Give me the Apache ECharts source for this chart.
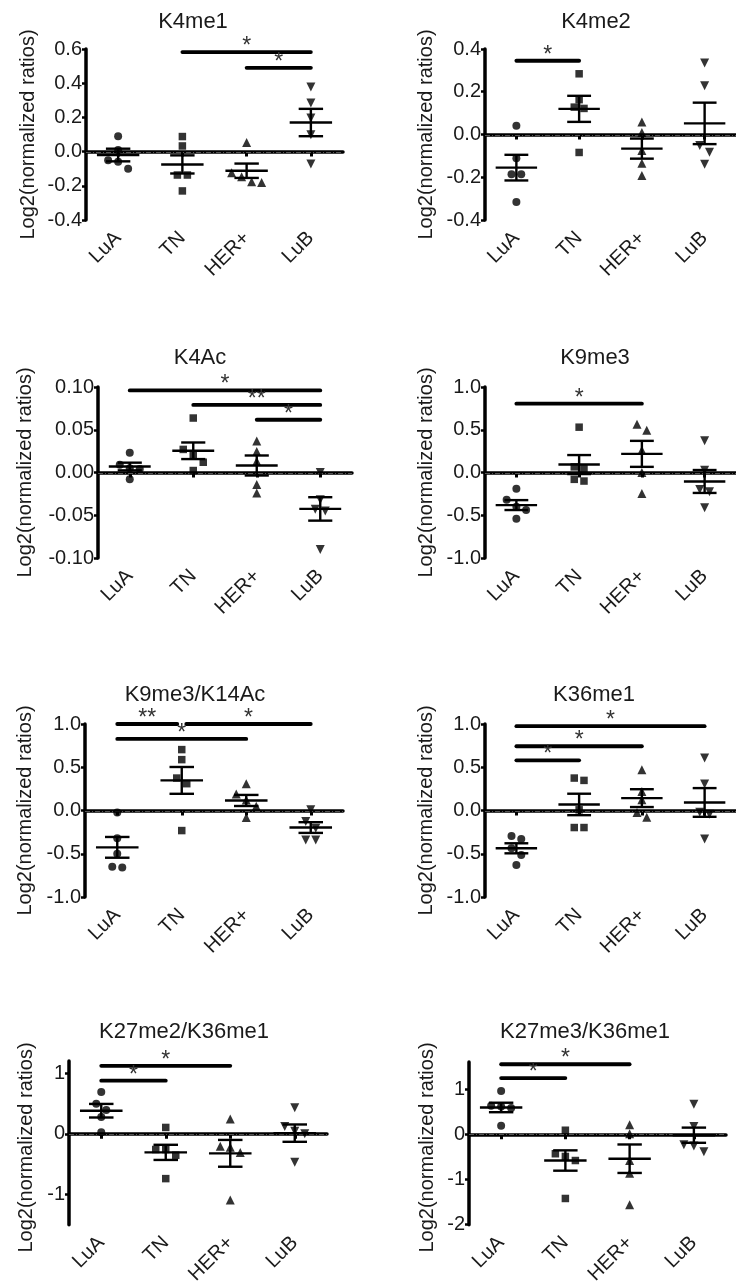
<!DOCTYPE html>
<html><head><meta charset="utf-8">
<script src="https://cdn.jsdelivr.net/npm/echarts@6/dist/echarts.min.js"></script>
<style>html,body{margin:0;padding:0;background:#fff;}#c{width:736px;height:1287px;}</style>
</head><body><div id="c"></div>
<script>
// ---------- DATA ----------
const groups = ['LuA', 'TN', 'HER+', 'LuB'];
const panelTitles = ['K4me1', 'K4me2', 'K4Ac', 'K9me3', 'K9me3/K14Ac', 'K36me1', 'K27me2/K36me1', 'K27me3/K36me1'];
const yAxisTitle = 'Log2(normalized ratios)';

const k4me1Values = [[0.09, 0.01, -0.05, -0.06, -0.10], [0.033, 0.088, -0.137, -0.137, -0.23], [0.053, -0.124, -0.147, -0.18, -0.176], [0.378, 0.284, 0.196, 0.098, -0.073]];
const k4me1Mean = [-0.02, -0.075, -0.112, 0.17];
const k4me1Sem = [0.037, 0.053, 0.042, 0.08];
const k4me1Sig = [[1, 3, 0.582, '*'], [2, 3, 0.49, '*']];

const k4me2Values = [[0.041, -0.111, -0.186, -0.186, -0.316], [0.284, 0.163, 0.128, 0.122, -0.084], [0.058, 0.009, -0.075, -0.134, -0.192], [0.334, 0.228, -0.052, -0.083, -0.139]];
const k4me2Mean = [-0.155, 0.12, -0.066, 0.052];
const k4me2Sem = [0.06, 0.061, 0.047, 0.097];
const k4me2Sig = [[0, 1, 0.345, '*']];

const k4acValues = [[0.023, 0.009, 0.005, 0.004, -0.008], [0.0637, 0.027, 0.02, 0.012, 0.0023], [0.0367, 0.0246, 0.0133, -0.014, -0.024], [0.0, -0.032, -0.043, -0.045, -0.09]];
const k4acMean = [0.007, 0.0254, 0.0082, -0.0426];
const k4acSem = [0.0045, 0.0097, 0.0117, 0.0137];
const k4acSig = [[0, 3, 0.096, '*'], [1, 3, 0.079, '**'], [2, 3, 0.0617, '*']];

const k9me3Values = [[-0.19, -0.32, -0.40, -0.44, -0.54], [0.53, 0.066, 0.047, -0.08, -0.10], [0.564, 0.494, 0.26, 0.0, -0.245], [0.37, 0.027, -0.2, -0.226, -0.412]];
const k9me3Mean = [-0.381, 0.093, 0.218, -0.105];
const k9me3Sem = [0.058, 0.111, 0.152, 0.134];
const k9me3Sig = [[0, 2, 0.805, '*']];

const k9k14Values = [[-0.023, -0.32, -0.50, -0.66, -0.65], [0.704, 0.588, 0.375, 0.31, -0.232], [0.31, 0.19, 0.12, 0.05, -0.08], [0.008, -0.128, -0.205, -0.34, -0.34]];
const k9k14Mean = [-0.426, 0.348, 0.116, -0.197];
const k9k14Sem = [0.12, 0.155, 0.064, 0.062];
const k9k14Sig = [[0, 1, 1.0, '**'], [1, 3, 1.0, '*'], [0, 2, 0.828, '*']];

const k36me1Values = [[-0.294, -0.33, -0.437, -0.515, -0.63], [0.348, 0.375, 0.008, -0.197, -0.197], [0.472, 0.22, 0.124, -0.077, -0.023], [0.607, 0.306, -0.02, -0.043, -0.33]];
const k36me1Mean = [-0.437, 0.07, 0.143, 0.093];
const k36me1Sem = [0.058, 0.124, 0.103, 0.166];
const k36me1Sig = [[0, 3, 0.975, '*'], [0, 2, 0.743, '*'], [0, 1, 0.58, '*']];

const k27me2Values = [[0.688, 0.495, 0.39, 0.276, 0.026], [0.104, -0.26, -0.26, -0.354, -0.74], [0.245, -0.224, -0.208, -0.31, -1.094], [0.427, 0.042, 0.12, 0.0, -0.47]];
const k27me2Mean = [0.38, -0.307, -0.323, 0.01];
const k27me2Sem = [0.112, 0.125, 0.221, 0.143];
const k27me2Sig = [[0, 2, 1.12, '*'], [0, 1, 0.875, '*']];

const k27me3Values = [[0.958, 0.615, 0.58, 0.63, 0.19], [0.09, -0.49, -0.43, -0.58, -1.42], [0.21, 0.014, -0.58, -0.86, -1.56], [0.665, 0.175, -0.23, -0.26, -0.385]];
const k27me3Mean = [0.594, -0.58, -0.54, -0.02];
const k27me3Sem = [0.105, 0.225, 0.315, 0.168];
const k27me3Sig = [[0, 2, 1.55, '*'], [0, 1, 1.245, '*']];

// y-axis tick settings per panel
const yTicks1 = {min: -0.4, max: 0.6, interval: 0.2, dec: 1};
const yTicks2 = {min: -0.4, max: 0.4, interval: 0.2, dec: 1};
const yTicks3 = {min: -0.1, max: 0.1, interval: 0.05, dec: 2};
const yTicks4 = {min: -1, max: 1, interval: 0.5, dec: 1};
const yTicks5 = {min: -1, max: 1, interval: 0.5, dec: 1};
const yTicks6 = {min: -1, max: 1, interval: 0.5, dec: 1};
const yTicks7 = {min: -1.5, max: 1.2, ticks: [-1, 0, 1], dec: 0};
const yTicks8 = {min: -2, max: 1.6, ticks: [-2, -1, 0, 1], dec: 0};

// ---------- LAYOUT ----------
const layout = [
  {left: 86, top: 49, width: 257, height: 171, tx: 193, ty: 22, nx: 28},
  {left: 485, top: 49, width: 258, height: 171, tx: 596, ty: 22, nx: 426},
  {left: 98, top: 387, width: 254, height: 171, tx: 200, ty: 358, nx: 25},
  {left: 485, top: 387, width: 258, height: 171, tx: 595, ty: 358, nx: 426},
  {left: 85, top: 724, width: 258, height: 173, tx: 195, ty: 695, nx: 25},
  {left: 485, top: 724, width: 258, height: 173, tx: 594, ty: 695, nx: 426},
  {left: 69, top: 1061, width: 258, height: 173, tx: 184, ty: 1032, nx: 26},
  {left: 469, top: 1062, width: 257, height: 171, tx: 585, ty: 1032, nx: 427}
];

const panels = [
  {values: k4me1Values, mean: k4me1Mean, sem: k4me1Sem, sig: k4me1Sig, y: yTicks1},
  {values: k4me2Values, mean: k4me2Mean, sem: k4me2Sem, sig: k4me2Sig, y: yTicks2},
  {values: k4acValues, mean: k4acMean, sem: k4acSem, sig: k4acSig, y: yTicks3},
  {values: k9me3Values, mean: k9me3Mean, sem: k9me3Sem, sig: k9me3Sig, y: yTicks4},
  {values: k9k14Values, mean: k9k14Mean, sem: k9k14Sem, sig: k9k14Sig, y: yTicks5},
  {values: k36me1Values, mean: k36me1Mean, sem: k36me1Sem, sig: k36me1Sig, y: yTicks6},
  {values: k27me2Values, mean: k27me2Mean, sem: k27me2Sem, sig: k27me2Sig, y: yTicks7},
  {values: k27me3Values, mean: k27me3Mean, sem: k27me3Sem, sig: k27me3Sig, y: yTicks8}
];

const FONT = '"Liberation Sans", Arial, Helvetica, sans-serif';
const TXT = '#1a1a1a';
const symbols = ['circle', 'rect', 'triangle', 'triangle'];
const symbolRot = [0, 0, 0, 180];
const symbolSizes = [8, 7.5, 9, 9];

// beeswarm-like spreading of points that would overlap vertically
function swarm(vals, gi, L, Y) {
  const ppu = L.height / (Y.max - Y.min);
  const band = L.width / 4;
  const idx = vals.map((v, i) => i).sort((a, b) => vals[b] - vals[a]);
  const clusters = []; let cur = [];
  idx.forEach(i => {
    if (cur.length && (vals[cur[cur.length - 1]] - vals[i]) * ppu >= 7) { clusters.push(cur); cur = []; }
    cur.push(i);
  });
  if (cur.length) clusters.push(cur);
  const out = [];
  clusters.forEach(c => c.forEach((i, k) => {
    const off = (k - (c.length - 1) / 2) * 10 / band;
    out.push([gi + 1 + off, vals[i]]);
  }));
  return out;
}

const option = {
  animation: false,
  backgroundColor: '#fff',
  grid: [], xAxis: [], yAxis: [], series: [], graphic: []
};

panels.forEach((P, pi) => {
  const L = layout[pi], Y = P.y;
  option.grid.push({left: L.left, top: L.top, width: L.width, height: L.height, containLabel: false});
  option.xAxis.push({
    type: 'category', gridIndex: pi, data: groups, boundaryGap: true,
    axisLine: {show: true, lineStyle: {color: '#000', width: 3.5}},
    axisTick: {show: true, alignWithLabel: true, length: 5, lineStyle: {color: '#000', width: 3}},
    axisLabel: {rotate: 45, margin: 15, color: TXT, fontSize: 20, fontFamily: FONT},
    splitLine: {show: false}
  });
  option.xAxis.push({type: 'value', gridIndex: pi, min: 0.5, max: 4.5, show: false});
  const ya = {
    type: 'value', gridIndex: pi, min: Y.min, max: Y.max,
    axisLine: {show: true, lineStyle: {color: '#000', width: 3.5}},
    axisTick: {show: true, length: 4, lineStyle: {color: '#000', width: 2.5}},
    axisLabel: {color: TXT, fontSize: 20, fontFamily: FONT, margin: 4,
      formatter: v => (Math.abs(v) < 1e-9 ? 0 : v).toFixed(Y.dec)},
    splitLine: {show: false}
  };
  if (Y.ticks) {
    ya.axisLabel.customValues = Y.ticks;
    ya.axisTick.customValues = Y.ticks;
  } else {
    ya.interval = Y.interval;
  }
  option.yAxis.push(ya);

  const xi = pi * 2 + 1;
  // zero reference line
  option.series.push({
    type: 'custom', xAxisIndex: xi, yAxisIndex: pi, z: 1, silent: true,
    data: [[0]],
    renderItem: (params, api) => {
      const a = api.coord([0.5, 0]), b = api.coord([4.5, 0]);
      const yy = Math.round(a[1]) + 0.5;
      return {type: 'line', shape: {x1: a[0], y1: yy, x2: b[0], y2: yy},
        style: {stroke: '#555', lineWidth: 1, lineDash: [5, 2, 1, 2]}};
    }
  });
  // points
  P.values.forEach((vals, gi) => {
    option.series.push({
      type: 'scatter', xAxisIndex: xi, yAxisIndex: pi, z: 3, silent: true,
      symbol: symbols[gi], symbolRotate: symbolRot[gi], symbolSize: symbolSizes[gi],
      itemStyle: {color: '#000'},
      data: swarm(vals, gi, L, Y)
    });
  });
  // mean +/- SEM
  option.series.push({
    type: 'custom', xAxisIndex: xi, yAxisIndex: pi, z: 4, silent: true,
    data: P.mean.map((m, gi) => [gi + 1, m, P.sem[gi]]),
    renderItem: (params, api) => {
      const x = api.value(0), m = api.value(1), s = api.value(2);
      const pm = api.coord([x, m]), pt = api.coord([x, m + s]), pb = api.coord([x, m - s]);
      const bw = api.size([1, 0])[0];
      const hw = bw * 0.33, cw = bw * 0.19;
      const st = {stroke: '#000', lineWidth: 2.4};
      return {type: 'group', children: [
        {type: 'line', shape: {x1: pm[0] - hw, y1: pm[1], x2: pm[0] + hw, y2: pm[1]}, style: st},
        {type: 'line', shape: {x1: pt[0], y1: pt[1], x2: pb[0], y2: pb[1]}, style: st},
        {type: 'line', shape: {x1: pt[0] - cw, y1: pt[1], x2: pt[0] + cw, y2: pt[1]}, style: st},
        {type: 'line', shape: {x1: pb[0] - cw, y1: pb[1], x2: pb[0] + cw, y2: pb[1]}, style: st}
      ]};
    }
  });
  // significance bars
  const sigData = P.sig.map(s => {
    let a = s[0] + 1, b = s[1] + 1;
    P.sig.forEach(o => {
      if (o === s || o[2] !== s[2]) return;
      if (o[0] === s[1]) b -= 0.07;
      if (o[1] === s[0]) a += 0.07;
    });
    return [a, b, s[2]];
  });
  option.series.push({
    type: 'custom', xAxisIndex: xi, yAxisIndex: pi, z: 5, silent: true, clip: false,
    data: sigData,
    renderItem: (params, api) => {
      const p1 = api.coord([api.value(0), api.value(2)]);
      const p2 = api.coord([api.value(1), api.value(2)]);
      const label = P.sig[params.dataIndex][3];
      return {type: 'group', children: [
        {type: 'line', shape: {x1: p1[0], y1: p1[1], x2: p2[0], y2: p2[1]},
          style: {stroke: '#000', lineWidth: 3.8, lineCap: 'round'}},
        {type: 'text', x: (p1[0] + p2[0]) / 2, y: p1[1] + 6,
          style: {text: label, font: '23px ' + FONT, fill: '#333',
            align: 'center', verticalAlign: 'bottom', textAlign: 'center', textVerticalAlign: 'bottom'}}
      ]};
    }
  });

  // title
  option.graphic.push({type: 'text', x: L.tx, y: L.ty, silent: true,
    style: {text: panelTitles[pi], font: '22px ' + FONT, fill: TXT,
      align: 'center', verticalAlign: 'middle', textAlign: 'center', textVerticalAlign: 'middle'}});
  // y-axis name
  option.graphic.push({type: 'text', x: L.nx, y: L.top + L.height / 2, rotation: Math.PI / 2, silent: true,
    style: {text: yAxisTitle, font: '20px ' + FONT, fill: TXT,
      align: 'center', verticalAlign: 'middle', textAlign: 'center', textVerticalAlign: 'middle'}});
});

const chart = echarts.init(document.getElementById('c'), null, {renderer: 'canvas', width: 736, height: 1287});
chart.setOption(option);
</script>
</body></html>
